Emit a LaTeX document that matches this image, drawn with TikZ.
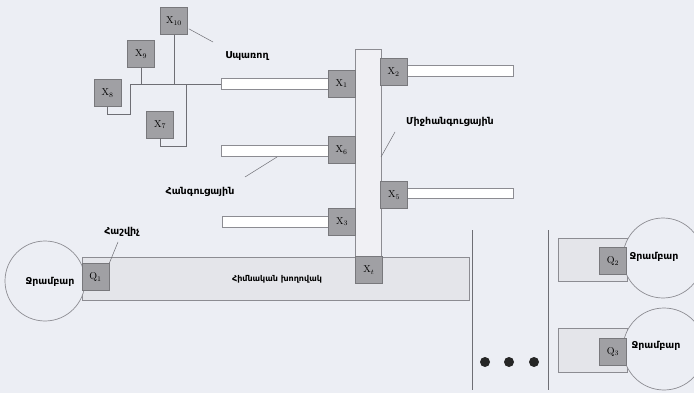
\documentclass[tikz,border=0pt]{standalone}
\usepackage{fontspec}
\newfontfamily\arm{DejaVu Sans}
\definecolor{bgcol}{RGB}{236,238,244}
\definecolor{boxfill}{RGB}{160,160,164}
\definecolor{boxline}{RGB}{120,120,124}
\definecolor{pipeline}{RGB}{140,140,146}
\definecolor{linecol}{RGB}{110,110,116}
\definecolor{lightfill}{RGB}{228,229,234}
\definecolor{vertfill}{RGB}{240,240,244}
\begin{document}
\begin{tikzpicture}[x=1pt,y=-1pt,
  xbox/.style={draw=boxline, fill=boxfill, minimum size=27pt, inner sep=0pt, font=\normalsize, line width=0.6pt},
  pipe/.style={draw=pipeline, fill=white, inner sep=0pt, line width=1pt},
  conn/.style={draw=linecol, line width=0.9pt},
  lead/.style={draw=linecol, line width=0.5pt},
  lab/.style={font=\arm\bfseries\fontsize{9.5}{11}\selectfont, inner sep=1pt},
  tank/.style={circle, draw=pipeline, fill=bgcol, line width=0.7pt, inner sep=0pt}]
\fill[bgcol] (0,0) rectangle (694,393);
\useasboundingbox (0,0) rectangle (694,393);

% top-left consumer cluster
\node[xbox] (x10) at (174,21) {X$_{10}$};
\node[xbox] (x9) at (141,54) {X$_{9}$};
\node[xbox] (x8) at (107.5,93) {X$_{8}$};
\node[xbox] (x7) at (160,124.5) {X$_{7}$};

% pipes
\node[pipe, minimum width=107pt, minimum height=11pt] (pa) at (274.5,84) {};
\node[pipe, minimum width=106pt, minimum height=11pt] (pb) at (460,71.5) {};
\node[pipe, minimum width=107pt, minimum height=11pt] (pc) at (274.5,151.5) {};
\node[pipe, minimum width=106pt, minimum height=10pt] (pd) at (460,194) {};
\node[pipe, minimum width=106pt, minimum height=10pt] (pe) at (275,222) {};

% bottom main pipe
\node[draw=pipeline, fill=lightfill, line width=1pt, minimum width=387pt, minimum height=43pt, inner sep=0pt] (main) at (275.5,278.5) {};
% vertical collector
\node[draw=pipeline, fill=vertfill, line width=1pt, minimum width=26pt, minimum height=207pt, inner sep=0pt] (vert) at (368,153.5) {};

% junction boxes
\node[xbox] (x1) at (341.5,83.5) {X$_{1}$};
\node[xbox] (x2) at (393.5,72) {X$_{2}$};
\node[xbox] (x6) at (341.5,150) {X$_{6}$};
\node[xbox] (x5) at (394,195) {X$_{5}$};
\node[xbox] (x3) at (342,221.5) {X$_{3}$};
\node[xbox] (xt) at (369,270) {X$_{t}$};

% consumer connections
\coordinate (jl) at (130,84);
\coordinate (t8) at (130,114);
\coordinate (t7) at (186,146);
\coordinate (j7) at (186,84);
\draw[conn] (x8.south) |- (t8) -- (jl) -- (pa.west);
\draw[conn] (x9.south) -- (x9.south |- jl);
\draw[conn] (x10.south) -- (x10.south |- jl);
\draw[conn] (x7.south) |- (t7) -- (j7);

% left reservoir
\node[tank, minimum size=80pt] (c1) at (45,281) {};
\node[lab] (c1t) at (50,282) {Ջրամբար};
\node[xbox] (q1) at (95.5,277) {Q$_{1}$};

% right reservoirs
\node[draw=pipeline, fill=lightfill, line width=0.8pt, minimum width=69pt, minimum height=43pt, inner sep=0pt] (r1) at (592.5,259.5) {};
\node[tank, minimum size=80pt] (c2) at (663,258) {};
\node[xbox] (q2) at (613,261) {Q$_{2}$};
\node[lab] (c2t) at (654,257) {Ջրամբար};

\node[draw=pipeline, fill=lightfill, line width=0.8pt, minimum width=69pt, minimum height=44pt, inner sep=0pt] (r2) at (592.5,350) {};
\node[tank, minimum size=82pt] (c3) at (664,349) {};
\node[xbox] (q3) at (613,351.5) {Q$_{3}$};
\node[lab] (c3t) at (656,346) {Ջրամբար};

% separators and dots
\coordinate (s1a) at (472,230); \coordinate (s1b) at (472,390);
\coordinate (s2a) at (548,230); \coordinate (s2b) at (548,390);
\draw[conn] (s1a) -- (s1b);
\draw[conn] (s2a) -- (s2b);
\fill[black!85] (485,362) circle (5pt) (509,362) circle (5pt) (534,362) circle (5pt);

% labels with leaders
\node[lab] (l1) at (247,56) {Սպառող};
\coordinate (l1a) at (213,42);
\draw[lead] (x10.south east) ++(1,-6) -- (l1a);

\node[lab] (l2) at (450,122) {Միջհանգուցային};
\coordinate (l2a) at (395,132);
\coordinate (l2b) at (381,157);
\draw[lead] (l2a) -- (l2b);

\node[lab] (l3) at (200,192) {Հանգուցային};
\coordinate (l3a) at (245,177);
\coordinate (l3b) at (277,157);
\draw[lead] (l3a) -- (l3b);

\node[lab] (l4) at (122,232) {Հաշվիչ};
\coordinate (l4a) at (118,242);
\draw[lead] (l4a) -- (q1.north east);

\node[lab, font=\arm\bfseries\fontsize{8}{9}\selectfont] (l5) at (277,279) {Հիմնական խողովակ};
\end{tikzpicture}
\end{document}
